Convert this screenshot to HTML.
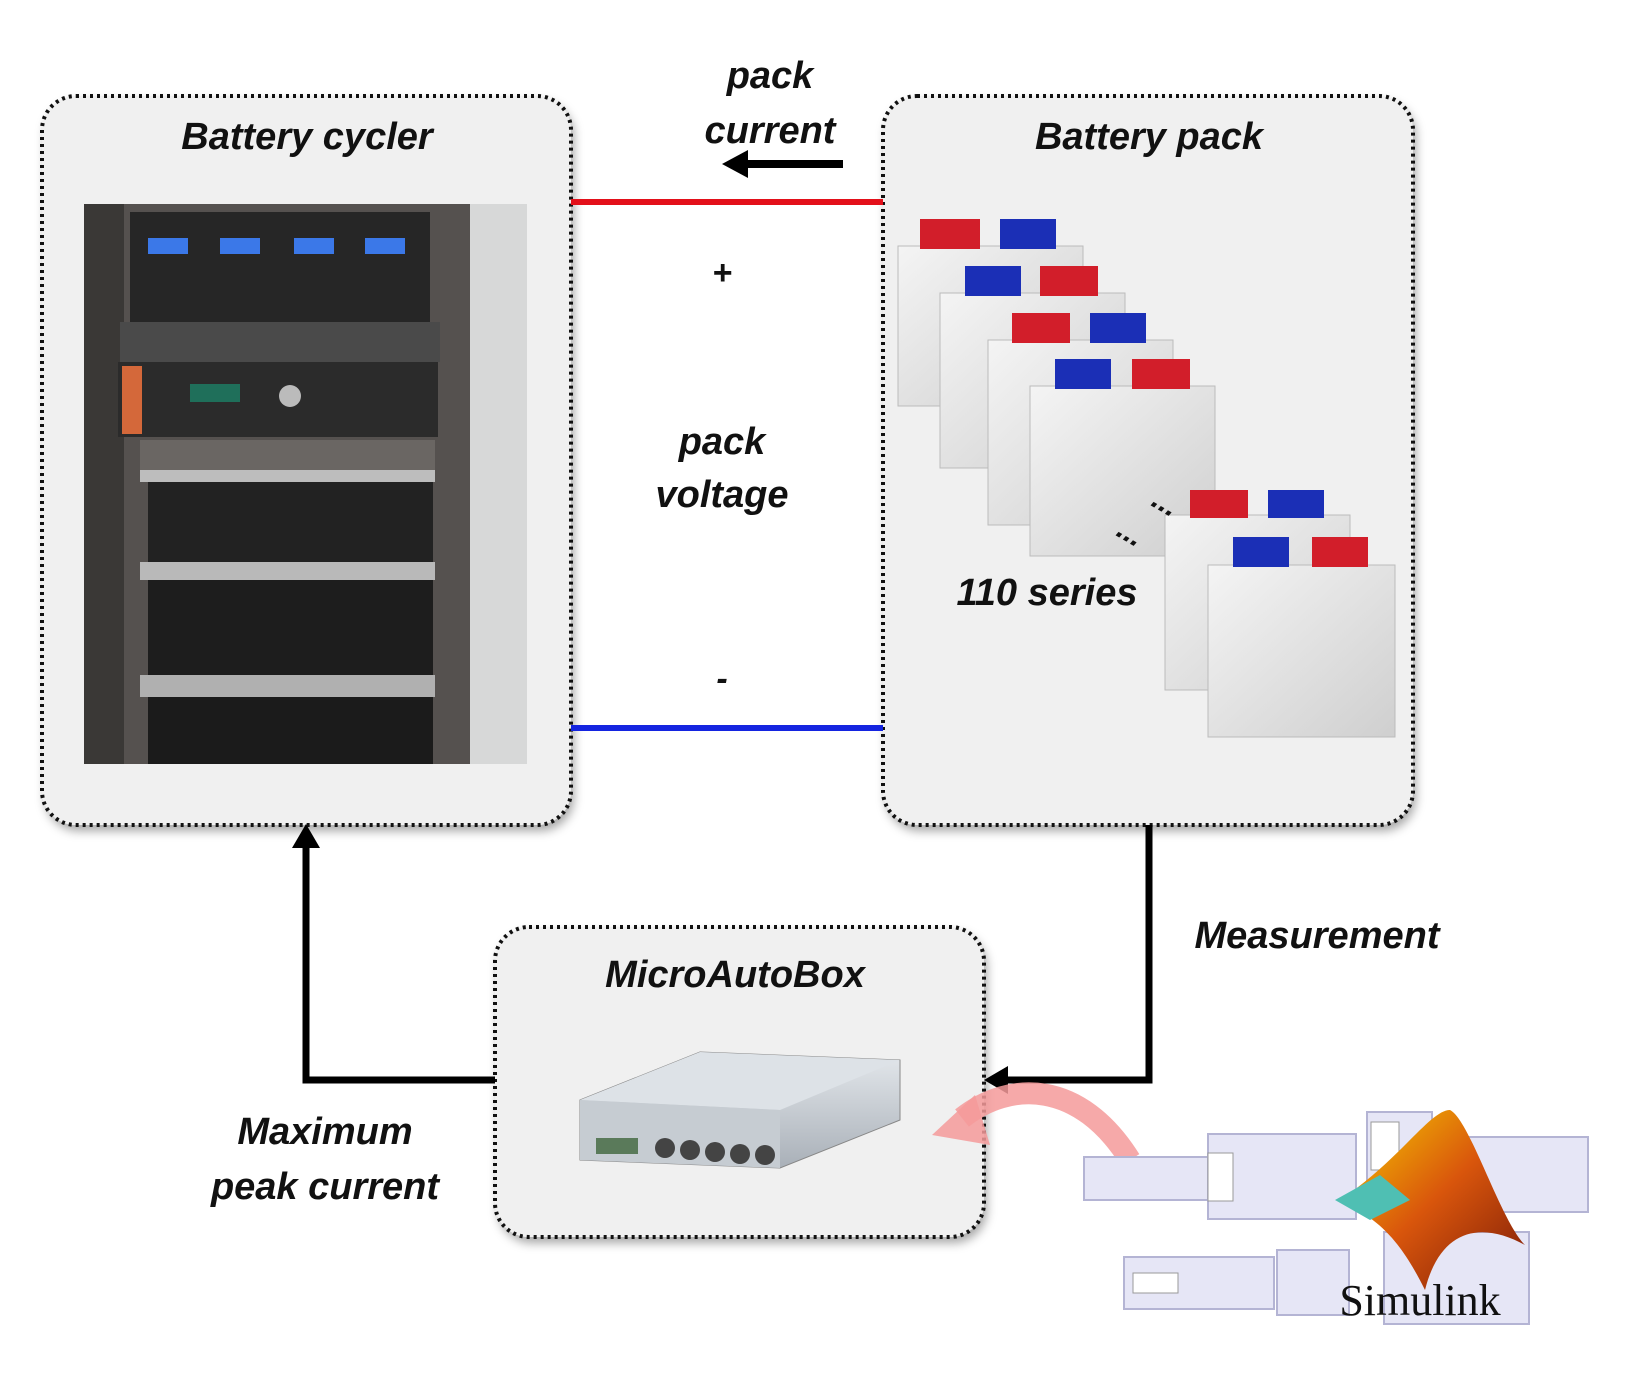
<!DOCTYPE html>
<html><head><meta charset="utf-8"><style>
html,body{margin:0;padding:0;background:#fff;}
svg{display:block;}
text{font-family:"Liberation Sans",Arial,sans-serif;font-weight:bold;font-style:italic;fill:#111;}
</style></head><body>
<svg width="1634" height="1390" viewBox="0 0 1634 1390" xmlns="http://www.w3.org/2000/svg">
<defs>
<filter id="sh" x="-5%" y="-5%" width="115%" height="115%"><feDropShadow dx="3" dy="6" stdDeviation="5" flood-color="#000" flood-opacity="0.35"/></filter>
<linearGradient id="cell" x1="0" y1="0" x2="1" y2="1"><stop offset="0" stop-color="#f4f4f4"/><stop offset="1" stop-color="#cfcfcf"/></linearGradient>
<linearGradient id="mab" x1="0" y1="0" x2="0" y2="1"><stop offset="0" stop-color="#e4e8ec"/><stop offset="1" stop-color="#a9b0b8"/></linearGradient>
<linearGradient id="mat" x1="0" y1="0" x2="1" y2="1"><stop offset="0" stop-color="#f7d000"/><stop offset="0.5" stop-color="#d9560c"/><stop offset="1" stop-color="#7a1a08"/></linearGradient>
</defs>

<!-- boxes -->
<g filter="url(#sh)">
<rect x="42" y="96" width="529" height="729" rx="34" fill="#f0f0f0"/>
<rect x="883" y="96" width="530" height="729" rx="34" fill="#f0f0f0"/>
<rect x="495" y="927" width="489" height="310" rx="34" fill="#f0f0f0"/>
</g>
<g fill="none" stroke="#111" stroke-width="4" stroke-dasharray="3 4">
<rect x="42" y="96" width="529" height="729" rx="34"/>
<rect x="883" y="96" width="530" height="729" rx="34"/>
<rect x="495" y="927" width="489" height="310" rx="34"/>
</g>

<!-- titles -->
<text x="307" y="149" font-size="38" text-anchor="middle">Battery cycler</text>
<text x="1149" y="149" font-size="38" text-anchor="middle">Battery pack</text>
<text x="735" y="987" font-size="38" text-anchor="middle">MicroAutoBox</text>
<text x="770" y="88" font-size="38" text-anchor="middle">pack</text>
<text x="770" y="143" font-size="38" text-anchor="middle">current</text>
<text x="722" y="454" font-size="38" text-anchor="middle">pack</text>
<text x="722" y="507" font-size="38" text-anchor="middle">voltage</text>
<text x="722" y="284" font-size="34" text-anchor="middle" font-style="normal">+</text>
<text x="722" y="690" font-size="34" text-anchor="middle" font-style="normal">-</text>
<text x="1047" y="605" font-size="38" text-anchor="middle">110 series</text>
<text x="1317" y="948" font-size="38" text-anchor="middle">Measurement</text>
<text x="325" y="1144" font-size="38" text-anchor="middle">Maximum</text>
<text x="325" y="1199" font-size="38" text-anchor="middle">peak current</text>

<!-- power lines -->
<line x1="571" y1="202" x2="883" y2="202" stroke="#e3101a" stroke-width="6"/>
<line x1="571" y1="728" x2="883" y2="728" stroke="#1424e0" stroke-width="6"/>
<line x1="745" y1="164" x2="843" y2="164" stroke="#000" stroke-width="8"/>
<polygon points="722,164 748,150 748,178" fill="#000"/>

<!-- connectors -->
<polyline points="1149,825 1149,1080 1005,1080" fill="none" stroke="#000" stroke-width="7"/>
<polygon points="984,1080 1008,1066 1008,1094" fill="#000"/>
<polyline points="495,1080 306,1080 306,845" fill="none" stroke="#000" stroke-width="7"/>
<polygon points="306,824 292,848 320,848" fill="#000"/>

<!-- cycler photo -->
<rect x="84" y="204" width="443" height="560" fill="#55514f"/>
<rect x="84" y="204" width="40" height="560" fill="#3a3836"/>
<rect x="470" y="204" width="57" height="560" fill="#d7d8d8"/>
<rect x="130" y="212" width="300" height="110" fill="#262626"/>
<g fill="#3b78e8"><rect x="148" y="238" width="40" height="16"/><rect x="220" y="238" width="40" height="16"/><rect x="294" y="238" width="40" height="16"/><rect x="365" y="238" width="40" height="16"/></g>
<rect x="120" y="322" width="320" height="40" fill="#4a4a4a"/>
<rect x="118" y="362" width="320" height="75" fill="#2b2b2b"/>
<rect x="122" y="366" width="20" height="68" fill="#d4683a"/>
<rect x="190" y="384" width="50" height="18" fill="#1f6f5a"/>
<circle cx="290" cy="396" r="11" fill="#bbb"/>
<rect x="140" y="440" width="295" height="40" fill="#6a6663"/>
<rect x="140" y="470" width="295" height="12" fill="#bdbdbd"/>
<rect x="148" y="482" width="285" height="80" fill="#222"/>
<rect x="140" y="562" width="295" height="18" fill="#b9b9b9"/>
<rect x="148" y="580" width="285" height="95" fill="#1d1d1d"/>
<rect x="140" y="675" width="295" height="22" fill="#b0b0b0"/>
<rect x="148" y="697" width="285" height="67" fill="#1b1b1b"/>

<!-- cells -->
<g>
<rect x="898" y="246" width="185" height="160" fill="url(#cell)" stroke="#bbb"/><rect x="920" y="219" width="60" height="30" fill="#d21e2a"/><rect x="1000" y="219" width="56" height="30" fill="#1b2fb6"/>
<rect x="940" y="293" width="185" height="175" fill="url(#cell)" stroke="#bbb"/><rect x="965" y="266" width="56" height="30" fill="#1b2fb6"/><rect x="1040" y="266" width="58" height="30" fill="#d21e2a"/>
<rect x="988" y="340" width="185" height="185" fill="url(#cell)" stroke="#bbb"/><rect x="1012" y="313" width="58" height="30" fill="#d21e2a"/><rect x="1090" y="313" width="56" height="30" fill="#1b2fb6"/>
<rect x="1030" y="386" width="185" height="170" fill="url(#cell)" stroke="#bbb"/><rect x="1055" y="359" width="56" height="30" fill="#1b2fb6"/><rect x="1132" y="359" width="58" height="30" fill="#d21e2a"/>
<rect x="1165" y="515" width="185" height="175" fill="url(#cell)" stroke="#bbb"/><rect x="1190" y="490" width="58" height="28" fill="#d21e2a"/><rect x="1268" y="490" width="56" height="28" fill="#1b2fb6"/>
<rect x="1208" y="565" width="187" height="172" fill="url(#cell)" stroke="#bbb"/><rect x="1233" y="537" width="56" height="30" fill="#1b2fb6"/><rect x="1312" y="537" width="56" height="30" fill="#d21e2a"/>
<text x="1150" y="505" font-size="30" font-style="normal" transform="rotate(30 1150 505)">...</text>
<text x="1115" y="535" font-size="30" font-style="normal" transform="rotate(30 1115 535)">...</text>
</g>

<!-- MicroAutoBox device -->
<polygon points="580,1100 700,1052 900,1060 900,1120 780,1168 580,1160" fill="url(#mab)" stroke="#888"/>
<polygon points="580,1100 700,1052 900,1060 780,1110" fill="#dde2e7"/>
<polygon points="580,1100 780,1110 780,1168 580,1160" fill="#c6ccd2"/>
<g fill="#444"><circle cx="665" cy="1148" r="10"/><circle cx="690" cy="1150" r="10"/><circle cx="715" cy="1152" r="10"/><circle cx="740" cy="1154" r="10"/><circle cx="765" cy="1155" r="10"/></g>
<rect x="596" y="1138" width="42" height="16" fill="#5a7a5a"/>

<!-- pink curved arrow -->
<path d="M1130,1160 C1080,1080 1010,1080 962,1118" fill="none" stroke="#f49a9a" stroke-width="22" opacity="0.85"/>
<polygon points="932,1135 975,1095 990,1145" fill="#f49a9a" opacity="0.85"/>

<!-- Simulink -->
<g fill="#e6e6f6" stroke="#b4b4d4" stroke-width="2">
<rect x="1084" y="1157" width="130" height="43"/>
<rect x="1208" y="1134" width="148" height="85"/>
<rect x="1367" y="1112" width="65" height="90"/>
<rect x="1440" y="1137" width="148" height="75"/>
<rect x="1124" y="1257" width="150" height="52"/>
<rect x="1277" y="1250" width="72" height="65"/>
<rect x="1384" y="1232" width="145" height="92"/>
</g>
<g fill="#fff" stroke="#999"><rect x="1208" y="1153" width="25" height="48"/><rect x="1133" y="1273" width="45" height="20"/><rect x="1371" y="1122" width="28" height="48"/></g>
<path d="M1340,1200 C1400,1160 1430,1110 1450,1110 C1470,1120 1500,1220 1525,1245 C1480,1220 1440,1230 1425,1290 C1400,1240 1380,1220 1340,1200 Z" fill="url(#mat)"/>
<polygon points="1335,1200 1380,1175 1410,1200 1370,1220" fill="#4fbfb3"/>
<text x="1420" y="1315" font-size="44" text-anchor="middle" font-family="Liberation Serif,serif" style="font-family:'Liberation Serif',serif;font-weight:normal;font-style:normal">Simulink</text>
</svg>
</body></html>
